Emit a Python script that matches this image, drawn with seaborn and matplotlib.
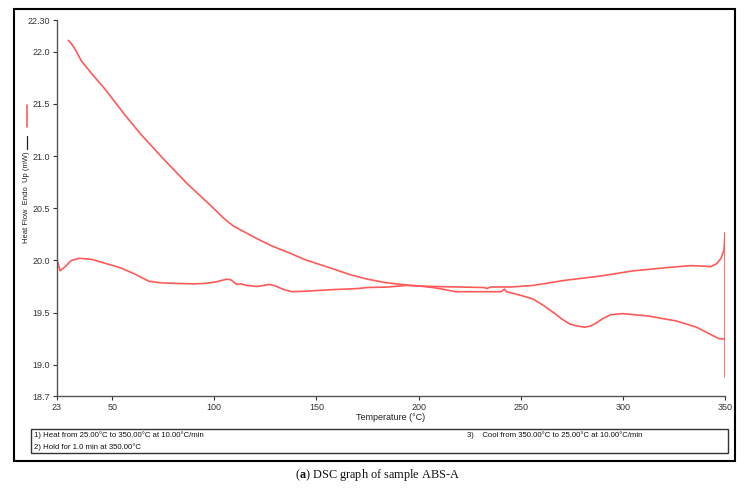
import matplotlib
matplotlib.use("Agg")
import matplotlib.pyplot as plt
from matplotlib.lines import Line2D
from matplotlib.patches import Rectangle
import pandas as pd
import seaborn as sns

# Step 1: heating 25 -> 350 C
heat_temp = [23, 24.5, 27, 30, 34, 40, 47, 54, 61, 68, 74, 80, 90, 96, 101, 106, 108, 111,
             113, 116, 121, 127, 130, 134, 138, 145, 158, 170, 175, 185, 194, 207, 220, 232,
             233.5, 235, 245, 256, 272, 289, 305, 321, 333, 340, 343, 346, 348, 349.5, 350]
heat_flow = [20.01, 19.90, 19.94, 20.00, 20.02, 20.01, 19.97, 19.93, 19.87, 19.80, 19.785,
             19.78, 19.775, 19.78, 19.795, 19.82, 19.815, 19.77, 19.775, 19.76, 19.75, 19.77,
             19.755, 19.72, 19.70, 19.705, 19.72, 19.73, 19.74, 19.745, 19.76, 19.75, 19.745,
             19.74, 19.73, 19.745, 19.745, 19.76, 19.81, 19.85, 19.90, 19.93, 19.95, 19.945,
             19.94, 19.97, 20.02, 20.10, 20.26]

# Step 2: hold 1.0 min at 350 C
hold_temp = [350, 350]
hold_flow = [20.26, 18.88]

# Step 3: cooling 350 -> 25 C
cool_temp = [350, 347, 344, 340, 336, 326, 313, 300, 294, 290, 287, 284, 281.5, 278, 274, 270,
             266, 261, 256, 250, 245, 243, 242, 240.5, 235, 225, 218, 213, 207, 200, 191, 183,
             175, 167, 158, 151.7, 144, 137, 128, 120.7, 115, 109.3, 106, 103, 98, 86.5, 75,
             64, 56, 47, 40, 35, 32, 30, 28.5]
cool_flow = [19.245, 19.25, 19.28, 19.32, 19.36, 19.42, 19.465, 19.49, 19.48, 19.44, 19.40,
             19.37, 19.36, 19.37, 19.39, 19.44, 19.50, 19.57, 19.63, 19.665, 19.69, 19.70,
             19.725, 19.70, 19.70, 19.70, 19.70, 19.72, 19.74, 19.755, 19.77, 19.79, 19.82,
             19.86, 19.92, 19.96, 20.01, 20.07, 20.14, 20.21, 20.27, 20.33, 20.38, 20.435,
             20.53, 20.74, 20.975, 21.21, 21.40, 21.63, 21.79, 21.91, 22.02, 22.08, 22.11]

x_ticks = [23, 50, 100, 150, 200, 250, 300, 350]
y_ticks = [18.7, 19.0, 19.5, 20.0, 20.5, 21.0, 21.5, 22.0, 22.30]
y_tick_labels = ["18.7", "19.0", "19.5", "20.0", "20.5", "21.0", "21.5", "22.0", "22.30"]

method_lines = ["1) Heat from 25.00°C to 350.00°C at 10.00°C/min",
                "2) Hold for 1.0 min at 350.00°C",
                "3)    Cool from 350.00°C to 25.00°C at 10.00°C/min"]

sns.set_style("white")
plt.rcParams["font.family"] = ["Liberation Sans", "DejaVu Sans"]
plt.rcParams["mathtext.fontset"] = "custom"
plt.rcParams["mathtext.rm"] = "Liberation Serif"
plt.rcParams["mathtext.bf"] = "Liberation Serif:bold"

line_color = "#ff5a5a"

fig = plt.figure(figsize=(7.54, 4.90), dpi=100)
ax = fig.add_axes([0.0756, 0.1918, 0.886, 0.7664])

segments = [(heat_temp, heat_flow), (hold_temp, hold_flow), (cool_temp, cool_flow)]
for temps, flows in segments:
    df = pd.DataFrame({"Temperature": temps, "Heat Flow": flows})
    sns.lineplot(data=df, x="Temperature", y="Heat Flow", sort=False, estimator=None,
                 color=line_color, linewidth=1.2, ax=ax)

ax.set_xlim(23, 350)
ax.set_ylim(18.7, 22.3)
ax.set_xticks(x_ticks)
ax.set_xticklabels([str(t) for t in x_ticks])
ax.set_yticks(y_ticks)
ax.set_yticklabels(y_tick_labels)
ax.tick_params(axis="both", direction="out", length=3, width=0.8, pad=2,
               labelsize=6.5, colors="#333333", left=True, bottom=True)
for side in ["top", "right"]:
    ax.spines[side].set_visible(False)
for side in ["left", "bottom"]:
    ax.spines[side].set_color("#555555")
    ax.spines[side].set_linewidth(1.0)
ax.set_xlabel("Temperature (°C)", fontsize=6.5, color="#222222", labelpad=1)
ax.set_ylabel("")

# y axis title with the line keys used by the instrument software
fig.text(0.0358, 0.598, "Heat Flow  Endo  Up (mW)", rotation=90, ha="center", va="center",
         fontsize=5.5, color="#222222")
fig.add_artist(Line2D([0.0358, 0.0358], [0.696, 0.722], transform=fig.transFigure,
                      color="#222222", linewidth=0.9))
fig.add_artist(Line2D([0.0358, 0.0358], [0.741, 0.786], transform=fig.transFigure,
                      color=line_color, linewidth=1.2))

# outer frame
fig.add_artist(Rectangle((0.0186, 0.0592), 0.956, 0.922, transform=fig.transFigure,
                         fill=False, edgecolor="black", linewidth=1.5))

# method box
fig.add_artist(Rectangle((0.0411, 0.0755), 0.924, 0.049, transform=fig.transFigure,
                         fill=False, edgecolor="#333333", linewidth=1.0))
fig.text(0.045, 0.112, method_lines[0], fontsize=5.6, va="center", ha="left", color="#111111")
fig.text(0.045, 0.088, method_lines[1], fontsize=5.6, va="center", ha="left", color="#111111")
fig.text(0.619, 0.112, method_lines[2], fontsize=5.6, va="center", ha="left", color="#111111")

# caption
fig.text(0.5, 0.030, r"($\mathbf{a}$) DSC graph of sample ABS-A", ha="center", va="center",
         fontsize=8.8, family=["Liberation Serif", "DejaVu Serif"], color="#111111")

fig.savefig("out.png", dpi=100)
